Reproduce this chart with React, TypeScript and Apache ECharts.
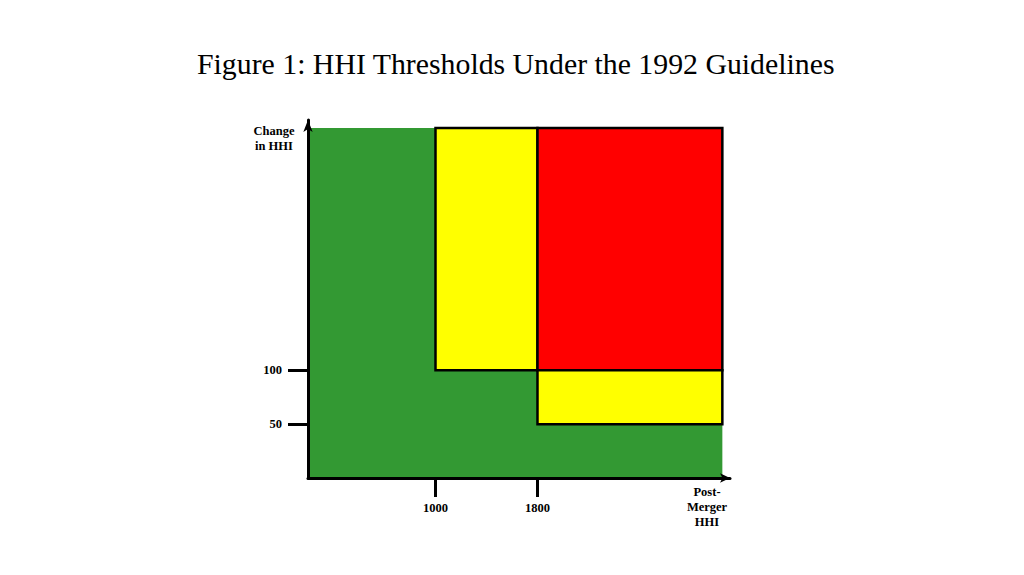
import React, { useEffect, useRef } from "react";
import * as echarts from "echarts";

const titleText = "Figure 1: HHI Thresholds Under the 1992 Guidelines";
const xTickValues = [1000, 1800];
const yTickValues = [50, 100];
const xAxisName = "Post-\nMerger\nHHI";
const yAxisName = "Change\nin HHI";

// Regions of the chart: [x start, x end, y start, y end]
const regionNames = ["No challenge", "Monitor (moderate)", "Likely challenge", "Monitor (high)"];
const regionXStart = [0, 1000, 1800, 1800];
const regionXEnd = [3250, 1800, 3250, 3250];
const regionYStart = [0, 100, 100, 50];
const regionYEnd = [325, 325, 325, 100];

const regionFill = ["#339933", "#ffff00", "#ff0000", "#ffff00"];
const regionStroke = [null, "#000000", "#000000", "#000000"];

const SERIF = "'Liberation Serif', 'Times New Roman', serif";

export default function App() {
  const ref = useRef<HTMLDivElement>(null);

  useEffect(() => {
    if (!ref.current) return;
    const chart = echarts.init(ref.current, null, { renderer: "svg" });
    const data = regionNames.map((name, i) => ({
      name,
      value: [regionXStart[i], regionXEnd[i], regionYStart[i], regionYEnd[i]],
    }));

    const option: any = {
      animation: false,
      backgroundColor: "#ffffff",
      title: {
        text: titleText,
        left: 192,
        top: 43,
        textStyle: {
          fontFamily: SERIF,
          fontSize: 29.8,
          fontWeight: "normal",
          color: "#000000",
        },
      },
      grid: {
        left: 308,
        top: 120,
        width: 422,
        height: 358,
        containLabel: false,
      },
      xAxis: {
        type: "value",
        min: 0,
        max: 3310,
        z: 10,
        splitLine: { show: false },
        axisLine: {
          show: true,
          onZero: false,
          symbol: ["none", "arrow"],
          symbolSize: [7, 10],
          lineStyle: { color: "#000000", width: 3 },
        },
        axisTick: {
          show: true,
          customValues: xTickValues,
          length: 19,
          lineStyle: { color: "#000000", width: 3 },
        },
        axisLabel: {
          show: true,
          customValues: xTickValues,
          formatter: (v: number) => String(v),
          margin: 23,
          fontFamily: SERIF,
          fontWeight: "bold",
          fontSize: 12.5,
          color: "#000000",
        },
      },
      yAxis: {
        type: "value",
        min: 0,
        max: 332.5,
        z: 10,
        splitLine: { show: false },
        axisLine: {
          show: true,
          onZero: false,
          symbol: ["none", "arrow"],
          symbolSize: [7, 12],
          lineStyle: { color: "#000000", width: 3 },
        },
        axisTick: {
          show: true,
          customValues: yTickValues,
          length: 20,
          lineStyle: { color: "#000000", width: 3 },
        },
        axisLabel: {
          show: true,
          customValues: yTickValues,
          formatter: (v: number) => String(v),
          margin: 26,
          fontFamily: SERIF,
          fontWeight: "bold",
          fontSize: 12.5,
          color: "#000000",
        },
      },
      graphic: [
        {
          type: "text",
          x: 274,
          y: 138,
          style: {
            text: yAxisName,
            fontFamily: SERIF,
            fontWeight: "bold",
            fontSize: 12.5,
            lineHeight: 15,
            fill: "#000000",
            textAlign: "center",
            textVerticalAlign: "middle",
          },
        },
        {
          type: "text",
          x: 707,
          y: 507,
          style: {
            text: xAxisName,
            fontFamily: SERIF,
            fontWeight: "bold",
            fontSize: 12.5,
            lineHeight: 15,
            fill: "#000000",
            textAlign: "center",
            textVerticalAlign: "middle",
          },
        },
      ],
      series: [
        {
          type: "custom",
          clip: false,
          encode: { x: [0, 1], y: [2, 3] },
          data,
          renderItem: (params: any, api: any) => {
            const i = params.dataIndex;
            const p0 = api.coord([api.value(0), api.value(3)]);
            const p1 = api.coord([api.value(1), api.value(2)]);
            return {
              type: "rect",
              shape: {
                x: p0[0],
                y: p0[1],
                width: p1[0] - p0[0],
                height: p1[1] - p0[1],
              },
              style: {
                fill: regionFill[i],
                stroke: regionStroke[i] || undefined,
                lineWidth: regionStroke[i] ? 2.5 : 0,
              },
            };
          },
        },
      ],
    };

    chart.setOption(option);
    return () => chart.dispose();
  }, []);

  return (
    <div
      ref={ref}
      style={{ position: "fixed", left: 0, top: 0, width: 1024, height: 575, background: "#ffffff" }}
    />
  );
}
